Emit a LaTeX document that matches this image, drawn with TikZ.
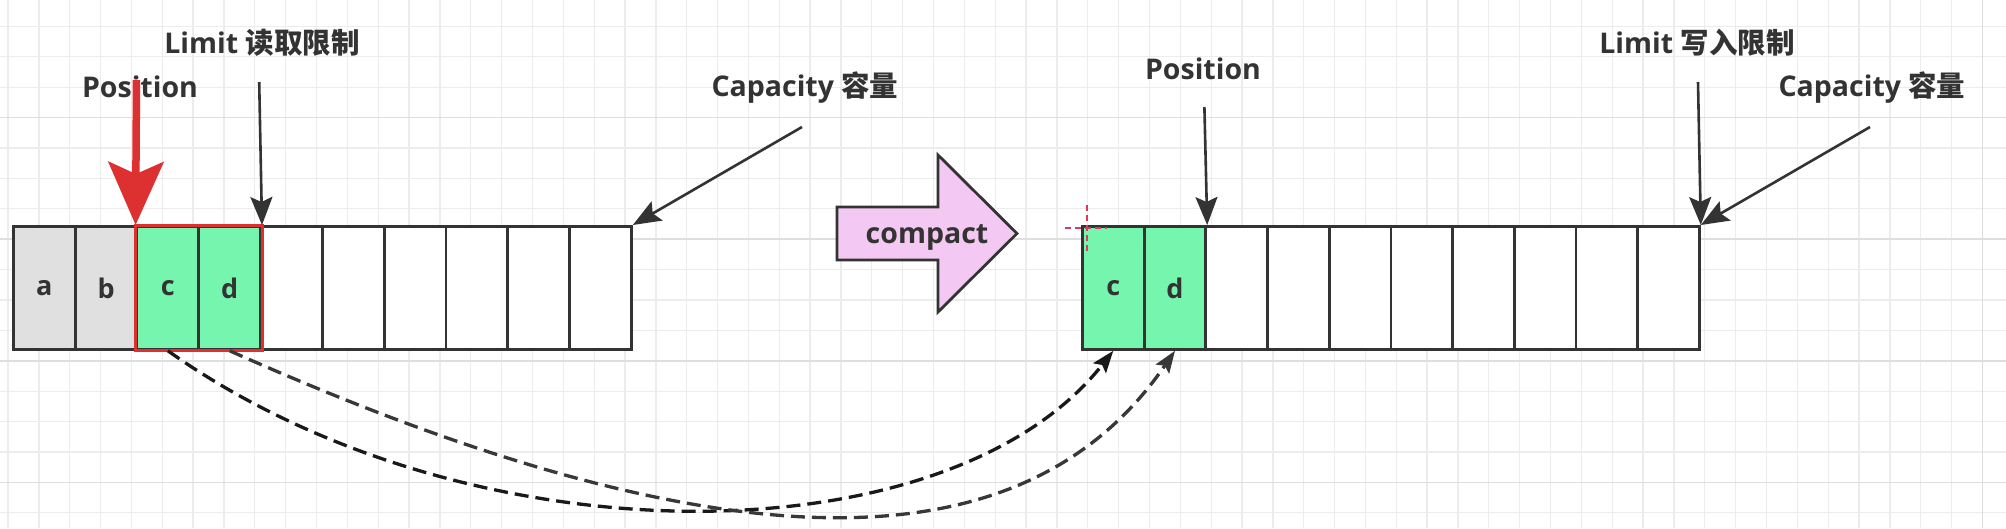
\documentclass[tikz,border=0pt]{standalone}
\usepackage{fontspec}
\setmainfont{Open Sans}
\newfontfamily\cjk{Noto Sans CJK SC}
\usetikzlibrary{arrows.meta}
\definecolor{cellgray}{RGB}{224,224,224}
\definecolor{cellgreen}{RGB}{118,245,175}
\definecolor{linec}{RGB}{51,51,51}
\definecolor{txt}{RGB}{51,51,51}
\definecolor{redc}{RGB}{221,48,48}
\definecolor{pinkc}{RGB}{243,200,243}
\definecolor{gridminor}{RGB}{236,236,236}
\definecolor{gridmajor}{RGB}{222,222,222}
\definecolor{crossc}{RGB}{215,60,95}
\tikzset{
  cellbox/.style={draw=linec, line width=2.8pt, minimum width=61.8pt, minimum height=123pt,
    inner sep=0pt, anchor=north west, font=\bfseries\fontsize{27}{30}\selectfont, text=txt},
  lbl/.style={font=\bfseries\fontsize{28.5}{32}\selectfont, text=txt, inner sep=0pt},
  ptr/.style={draw=linec, line width=2.6pt, -{Stealth[length=28pt,width=22pt,inset=5pt]}},
  redptr/.style={draw=redc, line width=7.5pt, -{Stealth[length=63pt,width=55pt,inset=12pt]}},
  dashcurve/.style={line width=3.3pt, dash pattern=on 14pt off 7pt, -{Stealth[length=22pt,width=16pt,inset=4pt]}},
}
\begin{document}
\begin{tikzpicture}[x=1pt,y=-1pt]
\useasboundingbox (0,0) rectangle (2006,528);
\fill[white] (0,0) rectangle (2006,528);
% grid
\foreach \k in {0,...,65} \draw[gridminor, line width=1.3pt] ({8+30.85*\k},0) -- ({8+30.85*\k},528);
\foreach \k in {0,...,17} \draw[gridminor, line width=1.3pt] (0,{-4+30.4*\k}) -- (2006,{-4+30.4*\k});
\foreach \k in {0,4,8,12,16} \draw[gridmajor, line width=1.5pt] (0,{-4+30.4*\k}) -- (2006,{-4+30.4*\k});
\draw[gridmajor, line width=1.5pt] (1982.4,0) -- (1982.4,528);

% left array
\foreach \i/\t/\c in {1/a/cellgray,2/b/cellgray,3/c/cellgreen,4/d/cellgreen,5//white,6//white,7//white,8//white,9//white,10//white}
  \node[cellbox, fill=\c] (L\i) at ({12+(\i-1)*61.8},225) {\t};
\draw[redc, line width=3pt] (L3.north west) rectangle (L4.south east);

% right array
\foreach \i/\t/\c in {1/c/cellgreen,2/d/cellgreen,3//white,4//white,5//white,6//white,7//white,8//white,9//white,10//white}
  \node[cellbox, fill=\c, minimum width=61.7pt] (R\i) at ({1081+(\i-1)*61.7},225) {\t};

% labels left
\node[lbl] (posL) at (140,87) {Position};
\node[lbl] (limL) at (262,43) {Limit {\cjk\bfseries 读取限制}};
\node[lbl] (capL) at (805,88) {Capacity {\cjk\bfseries 容量}};
% labels right
\node[lbl] (posR) at (1203,69) {Position};
\node[lbl] (limR) at (1697,43) {Limit {\cjk\bfseries 写入限制}};
\node[lbl] (capR) at (1872,88) {Capacity {\cjk\bfseries 容量}};

% pointer arrows
\coordinate (posLs) at (136.5,80);
\coordinate (limLs) at (259.2,82);
\coordinate (capLs) at (802,127);
\coordinate (posRs) at (1204.4,107);
\coordinate (limRs) at (1698,82);
\coordinate (capRs) at (1870,127);
\draw[redptr] (posLs) -- (L3.north west);
\draw[ptr] (limLs) -- (L4.north east);
\draw[ptr] (capLs) -- (L10.north east);
\draw[ptr] (posRs) -- (R2.north east);
\draw[ptr] (limRs) -- (R10.north east);
\draw[ptr] (capRs) -- (R10.north east);

% compact arrow
\draw[linec, line width=2.8pt, fill=pinkc, line join=miter]
  (837,207) -- (938,207) -- (938,155) -- (1017,233.5) -- (938,312) -- (938,260) -- (837,260) -- cycle;
\node[lbl] (cmp) at (927,237) {compact};

% cursor crosshair
\draw[crossc, line width=2pt, dash pattern=on 6pt off 4pt] (1065,228) -- (1107,228);
\draw[crossc, line width=2pt, dash pattern=on 6pt off 4pt] (1087,205) -- (1087,253);

% dashed curves
\draw[dashcurve, black!90] (L3.south) .. controls (470,565) and (949,560) .. (R1.south);
\draw[dashcurve, black!78] (L4.south) .. controls (724,571) and (1024,571) .. (R2.south);
\end{tikzpicture}
\end{document}
